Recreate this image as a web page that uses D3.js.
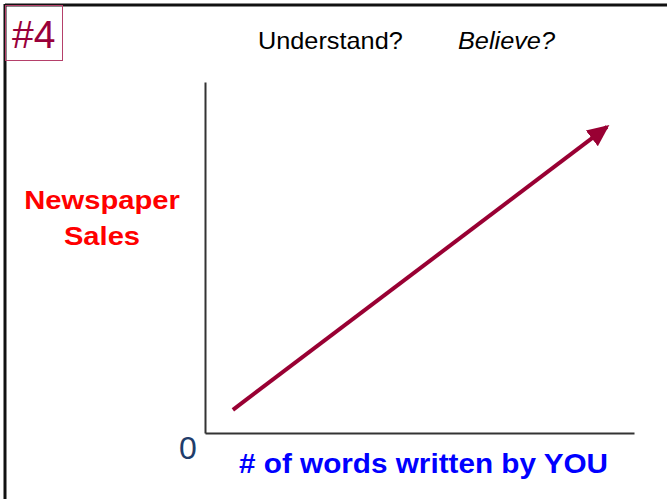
<!DOCTYPE html>
<html>
<head>
<meta charset="utf-8">
<script src="https://cdn.jsdelivr.net/npm/d3@7"></script>
<style>
  body { margin: 0; background: #fff; }
  text { font-family: Arial, "Liberation Sans", sans-serif; }
</style>
</head>
<body>
<div class="chartBox"></div>
<script>
// trend arrow: start and end of the rising line (axis units 0-100)
var trendX = [6.5, 93.7];
var trendY = [6.6, 87.2];
var xLabel = "# of words written by YOU";
var yLabel = ["Newspaper", "Sales"];
var questions = ["Understand?", "Believe?"];
var slideNo = "#4";

var width = 667, height = 499;
var svg = d3.select('.chartBox')
    .append('svg')
    .attr('width', width)
    .attr('height', height);

// slide frame (top + left edges only)
svg.append('line').attr('x1', 5).attr('y1', 5).attr('x2', 667).attr('y2', 5)
    .attr('stroke', '#111').attr('stroke-width', 3);
svg.append('line').attr('x1', 5).attr('y1', 4).attr('x2', 5).attr('y2', 499)
    .attr('stroke', '#111').attr('stroke-width', 3);

// slide number box
svg.append('rect')
    .attr('x', 5.5).attr('y', 5.5).attr('width', 57).attr('height', 55)
    .attr('fill', 'none').attr('stroke', '#b5406a').attr('stroke-width', 1);
svg.append('text')
    .attr('x', 12).attr('y', 48)
    .style('font-size', '39px')
    .attr('fill', '#99003a')
    .text(slideNo);

// stretched text helper (slide was scaled wider than tall)
function stretched(x, y, str, size, opts) {
    var t = svg.append('text')
        .attr('transform', 'translate(' + x + ',' + y + ') scale(1.1,1)')
        .style('font-size', size + 'px')
        .text(str);
    if (opts.anchor) t.attr('text-anchor', opts.anchor);
    if (opts.bold) t.style('font-weight', 'bold');
    if (opts.italic) t.style('font-style', 'italic');
    t.attr('fill', opts.fill || '#000');
    return t;
}

stretched(258, 49, questions[0], 23, {});
stretched(458, 49, questions[1], 23, { italic: true });

stretched(102, 209, yLabel[0], 26.5, { anchor: 'middle', bold: true, fill: '#ff0000' });
stretched(102, 245, yLabel[1], 26.5, { anchor: 'middle', bold: true, fill: '#ff0000' });

stretched(239, 473, xLabel, 27, { bold: true, fill: '#0000ff' });

svg.append('text')
    .attr('x', 179).attr('y', 459)
    .style('font-size', '32px')
    .attr('fill', '#1f3d6b')
    .text('0');

// scales and axes
var x = d3.scaleLinear().domain([0, 100]).range([205, 634]);
var y = d3.scaleLinear().domain([0, 100]).range([433, 82]);

var xAxis = svg.append('g')
    .attr('transform', 'translate(0,' + y(0) + ')')
    .call(d3.axisBottom(x).tickValues([]).tickSizeOuter(0));
var yAxis = svg.append('g')
    .attr('transform', 'translate(' + x(0) + ',0)')
    .call(d3.axisLeft(y).tickValues([]).tickSizeOuter(0));
[xAxis, yAxis].forEach(function (a) {
    a.select('.domain').attr('stroke', '#333').attr('stroke-width', 2);
});

// arrowhead
svg.append('defs').append('marker')
    .attr('id', 'head')
    .attr('markerUnits', 'userSpaceOnUse')
    .attr('viewBox', '0 -11 22 22')
    .attr('refX', 19).attr('refY', 0)
    .attr('markerWidth', 22).attr('markerHeight', 22)
    .attr('orient', 'auto')
    .append('path')
    .attr('d', 'M0,-10L22,0L0,10Z')
    .attr('fill', '#990033');

var pts = trendX.map(function (d, i) { return [x(d), y(trendY[i])]; });
svg.append('path')
    .datum(pts)
    .attr('d', d3.line())
    .attr('fill', 'none')
    .attr('stroke', '#990033')
    .attr('stroke-width', 4)
    .attr('marker-end', 'url(#head)');
</script>
</body>
</html>
